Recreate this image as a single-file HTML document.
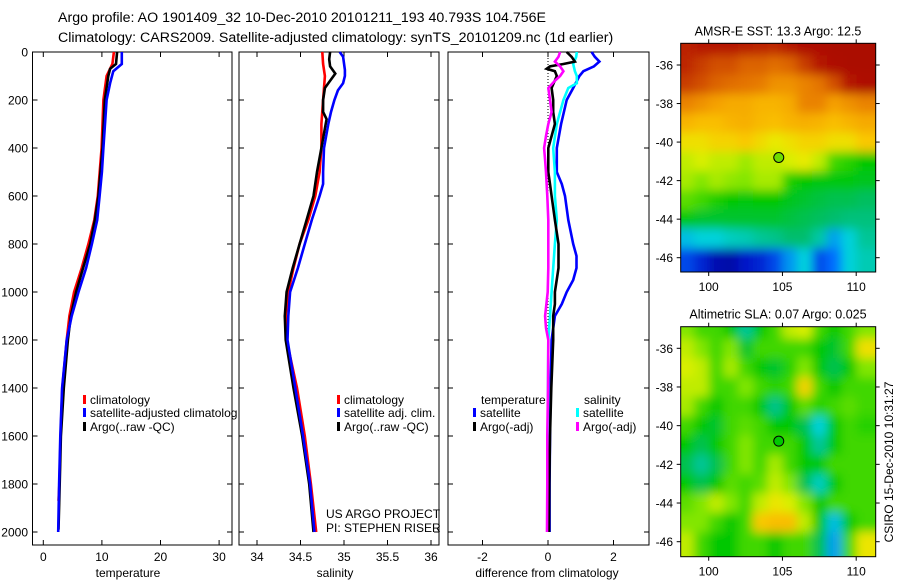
<!DOCTYPE html>
<html><head><meta charset="utf-8"><style>
html,body{margin:0;padding:0;background:#fff;}
svg{display:block;font-family:"Liberation Sans",sans-serif;}
</style></head><body>
<svg id="fig" width="900" height="580" viewBox="0 0 900 580" xmlns="http://www.w3.org/2000/svg">
<defs>
<filter id="blur" x="-0.1" y="-0.1" width="1.2" height="1.2"><feGaussianBlur stdDeviation="5"/></filter>
<clipPath id="clipA"><rect x="680.7" y="43.3" width="195" height="228.7"/></clipPath>
<clipPath id="clipB"><rect x="680.7" y="326.7" width="195" height="230"/></clipPath>
</defs>
<text x="58" y="22" font-size="14.2">Argo profile: AO 1901409_32 10-Dec-2010 20101211_193 40.793S 104.756E</text>
<text x="58" y="42" font-size="14.2">Climatology: CARS2009. Satellite-adjusted climatology: synTS_20101209.nc (1d earlier)</text>
</svg>
<script>
// ---- data ----
const depthTicks = [0,200,400,600,800,1000,1200,1400,1600,1800,2000];
const tempTicks = [0,10,20,30];
const salTicks = [34,34.5,35,35.5,36];
const diffTicks = [-2,0,2];
const tempClimDepth = [0,50,100,200,400,600,700,800,900,1000,1100,1200,1400,1600,1800,1870];
const tempClim = [12.05,11.8,10.8,10.25,9.95,9.3,8.7,7.7,6.55,5.25,4.45,4.0,3.25,2.95,2.75,2.6];
const tempArgoDepth = [0,50,70,100,200,400,600,700,800,900,1000,1100,1200,1400,1600,1800,1990];
const tempArgo = [12.6,12.4,11.4,11.1,10.5,10.1,9.4,8.8,8.0,6.8,5.6,4.7,4.2,3.5,3.0,2.8,2.6];
const tempSatDepth = [0,50,80,130,200,400,500,600,700,800,900,1000,1100,1200,1400,1600,1800,2000];
const tempSat = [13.4,13.4,11.95,11.4,10.8,10.25,10.0,9.6,9.2,8.3,7.3,6.0,4.85,4.0,3.2,2.9,2.7,2.55];
const salClimDepth = [0,50,100,200,300,400,500,600,700,800,900,1000,1100,1200,1400,1600,1800,2000];
const salClim = [34.75,34.76,34.78,34.76,34.74,34.74,34.72,34.67,34.59,34.49,34.42,34.36,34.33,34.34,34.46,34.55,34.62,34.68];
const salArgoDepth = [0,30,60,90,120,150,200,250,280,300,400,500,600,700,800,900,1000,1100,1200,1400,1600,1800,2000];
const salArgo = [34.84,34.83,34.84,34.9,34.84,34.78,34.76,34.76,34.8,34.79,34.74,34.69,34.65,34.57,34.49,34.41,34.34,34.32,34.33,34.42,34.52,34.6,34.65];
const salSatDepth = [0,20,75,100,130,160,200,250,300,400,500,550,600,700,800,900,1000,1100,1200,1400,1600,1800,2000];
const salSat = [34.95,34.99,35.01,35.01,34.99,34.93,34.89,34.85,34.82,34.77,34.76,34.76,34.72,34.63,34.55,34.47,34.38,34.36,34.35,34.44,34.53,34.61,34.66];
const dTsatDepth = [0,20,40,60,80,100,150,200,300,400,500,550,600,700,800,850,900,950,1000,1050,1100,1200,1400,1600,1800,2000];
const dTsat = [1.33,1.43,1.57,1.4,1.08,0.96,0.77,0.57,0.4,0.27,0.27,0.42,0.52,0.62,0.77,0.87,0.87,0.77,0.57,0.42,0.21,0.11,0.08,0.06,0.05,0.05];
const dSsatDepth = [0,20,50,80,100,130,150,200,300,400,500,600,700,800,900,1000,1100,1200,1400,1600,1800,2000];
const dSsat = [0.88,0.86,0.77,0.82,0.88,0.88,0.62,0.47,0.27,0.16,0.21,0.21,0.27,0.21,0.16,0.11,0.06,0.01,0.0,-0.01,0,0];
const dTargoDepth = [0,20,40,50,60,70,80,100,150,200,250,300,350,400,500,550,600,700,800,900,1000,1050,1100,1200,1400,1600,1800,2000];
const dTargo = [0.57,0.72,0.82,0.47,0.06,-0.04,0.21,0.27,0.11,0.16,0.16,0.21,0.11,0.01,0.01,0.06,0.11,0.21,0.32,0.32,0.21,0.21,0.16,0.16,0.1,0.06,0.04,0.03];
const dSargoDepth = [0,20,40,60,80,100,120,150,200,250,300,350,400,450,500,600,700,800,900,1000,1100,1150,1200,1400,1600,1800,2000];
const dSargo = [0.37,0.32,0.21,0.37,0.47,0.37,0.21,0.01,0.06,0.11,0.01,-0.06,-0.12,-0.09,-0.06,-0.02,0.01,0.01,0.01,-0.01,-0.09,-0.06,0.01,0.0,-0.02,-0.02,-0.03];
const mapLon = [98.5,99.5,100.5,101.5,102.5,103.5,104.5,105.5,106.5,107.5,108.5,109.5,110.5,111.5];
const mapLat = [-35,-36,-37,-38,-39,-40,-41,-42,-43,-44,-45,-46];
const lonTicks = [100,105,110];
const latTicks = [-36,-38,-40,-42,-44,-46];
const sstGrid = [
[0.93,0.95,0.95,0.95,0.94,0.93,0.92,0.95,0.97,0.97,0.98,0.98,0.98,0.98],
[0.92,0.9,0.88,0.88,0.86,0.86,0.85,0.86,0.9,0.95,0.97,0.98,0.98,0.98],
[0.9,0.88,0.86,0.85,0.84,0.83,0.8,0.8,0.82,0.84,0.88,0.95,0.97,0.97],
[0.82,0.8,0.78,0.76,0.76,0.74,0.74,0.76,0.82,0.82,0.78,0.8,0.82,0.82],
[0.74,0.72,0.72,0.74,0.75,0.73,0.72,0.74,0.75,0.74,0.72,0.74,0.76,0.76],
[0.66,0.66,0.68,0.68,0.7,0.67,0.64,0.66,0.68,0.68,0.66,0.66,0.7,0.7],
[0.6,0.62,0.6,0.6,0.57,0.6,0.6,0.62,0.64,0.6,0.5,0.48,0.45,0.45],
[0.58,0.55,0.58,0.56,0.55,0.58,0.58,0.47,0.45,0.44,0.44,0.44,0.43,0.43],
[0.52,0.5,0.47,0.45,0.44,0.45,0.45,0.43,0.42,0.41,0.4,0.4,0.39,0.39],
[0.44,0.42,0.42,0.42,0.42,0.42,0.42,0.41,0.4,0.39,0.38,0.37,0.37,0.37],
[0.28,0.3,0.3,0.32,0.33,0.35,0.36,0.38,0.38,0.34,0.25,0.3,0.35,0.35],
[0.16,0.12,0.07,0.06,0.1,0.12,0.16,0.24,0.3,0.16,0.2,0.3,0.33,0.33]];
const slaGrid = [
[0.55,0.5,0.5,0.45,0.35,0.45,0.5,0.6,0.62,0.5,0.45,0.5,0.55,0.55],
[0.6,0.55,0.5,0.55,0.42,0.5,0.5,0.5,0.5,0.45,0.42,0.5,0.66,0.66],
[0.62,0.6,0.5,0.58,0.5,0.45,0.42,0.48,0.55,0.45,0.4,0.45,0.55,0.55],
[0.6,0.6,0.5,0.5,0.55,0.5,0.48,0.5,0.68,0.5,0.45,0.5,0.5,0.5],
[0.58,0.5,0.45,0.5,0.5,0.45,0.36,0.45,0.52,0.48,0.5,0.52,0.5,0.5],
[0.5,0.45,0.42,0.5,0.52,0.5,0.45,0.45,0.4,0.3,0.45,0.5,0.48,0.48],
[0.45,0.4,0.45,0.5,0.55,0.5,0.5,0.5,0.45,0.35,0.45,0.5,0.5,0.5],
[0.4,0.35,0.4,0.5,0.55,0.5,0.58,0.5,0.45,0.45,0.5,0.5,0.5,0.5],
[0.45,0.4,0.45,0.52,0.5,0.52,0.6,0.55,0.4,0.32,0.45,0.5,0.5,0.5],
[0.52,0.55,0.6,0.55,0.5,0.6,0.65,0.62,0.55,0.45,0.5,0.5,0.5,0.5],
[0.55,0.55,0.5,0.45,0.5,0.7,0.72,0.72,0.6,0.45,0.28,0.45,0.5,0.5],
[0.6,0.5,0.45,0.45,0.5,0.5,0.45,0.5,0.5,0.4,0.25,0.5,0.65,0.65]];
const argoPos = [104.75,-40.8];

// ---- helpers ----
const NS = "http://www.w3.org/2000/svg";
const svg = document.getElementById('fig');
function mk(tag, attrs, parent, text){
  const e = document.createElementNS(NS, tag);
  for (const k in attrs) e.setAttribute(k, attrs[k]);
  if (text !== undefined) e.textContent = text;
  (parent || svg).appendChild(e);
  return e;
}
const yDepth = d => 52 + d*0.24;
const PY0 = 52, PY1 = 545;
const panels = [
  {name:'temperature', x0:32.5, x1:232, sx:v => 43.3 + v*5.86, ticks:tempTicks, label:'temperature'},
  {name:'salinity', x0:239, x1:439, sx:v => 257 + (v-34)*87, ticks:salTicks, label:'salinity'},
  {name:'difference', x0:448, x1:649, sx:v => 548 + v*32.75, ticks:diffTicks, label:'difference from climatology'}
];
panels.forEach((p, i) => {
  const g = mk('g', {});
  
  
  const r = mk('rect', {x:p.x0, y:PY0, width:p.x1-p.x0, height:PY1-PY0, fill:'none', stroke:'#000', 'stroke-width':1}, g);
  
  
  depthTicks.forEach(d => {
    const y = yDepth(d);
    mk('line', {x1:p.x0, x2:p.x0+5, y1:y, y2:y, stroke:'#000'}, g);
    mk('line', {x1:p.x1, x2:p.x1-5, y1:y, y2:y, stroke:'#000'}, g);
    if (i === 0) {
      const t = mk('text', {x:28, y:y+4.5, 'font-size':12, 'text-anchor':'end'}, g, String(d));
      
      
    }
  });
  p.ticks.forEach(v => {
    const x = p.sx(v);
    mk('line', {x1:x, x2:x, y1:PY0, y2:PY0+5, stroke:'#000'}, g);
    mk('line', {x1:x, x2:x, y1:PY1, y2:PY1-5, stroke:'#000'}, g);
    const t = mk('text', {x:x, y:561, 'font-size':12, 'text-anchor':'middle'}, g, String(v));
    
    
  });
  const lab = mk('text', {x:(i===0?128:(i===1?335:547)), y:577, 'font-size':12, 'text-anchor':'middle'}, g, p.label);
  
  
});
const zl = mk('line', {x1:panels[2].sx(0), x2:panels[2].sx(0), y1:yDepth(0), y2:yDepth(2000), stroke:'#000', 'stroke-width':1, 'stroke-dasharray':'1,2'});



function series(p, depths, vals, color, name){
  const pts = depths.map((d, k) => p.sx(vals[k]).toFixed(1) + ',' + yDepth(d).toFixed(1)).join(' ');
  const pl = mk('polyline', {points:pts, fill:'none', stroke:color, 'stroke-width':2.6, 'stroke-linejoin':'miter'});
  
  
}
series(panels[0], tempClimDepth, tempClim, '#f00', 'temperature-climatology-line');
series(panels[0], tempArgoDepth, tempArgo, '#000', 'temperature-argo-line');
series(panels[0], tempSatDepth, tempSat, '#00f', 'temperature-satellite-line');
series(panels[1], salClimDepth, salClim, '#f00', 'salinity-climatology-line');
series(panels[1], salArgoDepth, salArgo, '#000', 'salinity-argo-line');
series(panels[1], salSatDepth, salSat, '#00f', 'salinity-satellite-line');
series(panels[2], dTsatDepth, dTsat, '#00f', 'temp-diff-satellite-line');
series(panels[2], dSsatDepth, dSsat, '#0ff', 'sal-diff-satellite-line');
series(panels[2], dTargoDepth, dTargo, '#000', 'temp-diff-argo-line');
series(panels[2], dSargoDepth, dSargo, '#f0f', 'sal-diff-argo-line');

function legendEntry(x, y, color, text, name){
  const g = mk('g', {});
  
  
  mk('rect', {x:x, y:y-9, width:3, height:9, fill:color}, g);
  mk('text', {x:x+7, y:y, 'font-size':12}, g, text);
}
legendEntry(83, 404, '#f00', 'climatology', 'legend-entry-climatology');
legendEntry(83, 417, '#00f', 'satellite-adjusted climatolog', 'legend-entry-satellite-adjusted');
legendEntry(83, 431, '#000', 'Argo(..raw -QC)', 'legend-entry-argo');
legendEntry(337, 404, '#f00', 'climatology', 'legend-entry-sal-climatology');
legendEntry(337, 417, '#00f', 'satellite adj. clim.', 'legend-entry-sal-satellite');
legendEntry(337, 431, '#000', 'Argo(..raw -QC)', 'legend-entry-sal-argo');
const lt = mk('text', {x:481, y:404, 'font-size':12}, undefined, 'temperature');


const ls = mk('text', {x:584, y:404, 'font-size':12}, undefined, 'salinity');


legendEntry(473, 417, '#00f', 'satellite', 'legend-entry-temp-satellite');
legendEntry(473, 431, '#000', 'Argo(-adj)', 'legend-entry-temp-argo');
legendEntry(576, 417, '#0ff', 'satellite', 'legend-entry-sal-satellite-diff');
legendEntry(576, 431, '#f0f', 'Argo(-adj)', 'legend-entry-sal-argo-diff');
const c1 = mk('text', {x:326, y:518, 'font-size':12}, undefined, 'US ARGO PROJECT');


const c2 = mk('text', {x:326, y:532, 'font-size':12}, undefined, 'PI: STEPHEN RISER');



const stops = [[0,[0,0,120]],[0.1,[0,20,200]],[0.2,[0,110,255]],[0.3,[0,210,220]],[0.38,[0,190,110]],[0.45,[0,200,0]],[0.55,[130,230,0]],[0.63,[230,240,0]],[0.7,[250,200,0]],[0.78,[245,160,0]],[0.85,[225,110,0]],[0.92,[190,40,0]],[1,[165,0,0]]];
function cmap(v){
  v = Math.max(0, Math.min(1, v));
  for (let k=1; k<stops.length; k++){
    if (v <= stops[k][0]){
      const a = stops[k-1], b = stops[k], t = (v-a[0])/(b[0]-a[0]);
      const c = a[1].map((q,j) => Math.round(q + (b[1][j]-q)*t));
      return 'rgb(' + c.join(',') + ')';
    }
  }
  return 'rgb(165,0,0)';
}
function drawMap(m){
  const sx = lon => 708.7 + (lon-100)*14.75;
  const sy = lat => m.yLat36 + (-36 - lat)*m.pxLat;
  const g = mk('g', {});
  
  
  const cg = mk('g', {'clip-path':'url(#' + m.clip + ')'}, g);
  const bg = mk('g', {filter:'url(#blur)'}, cg);
  m.grid.forEach((row, r) => {
    row.forEach((v, c) => {
      let x0 = sx(mapLon[c]-0.5), x1 = sx(mapLon[c]+0.5);
      let y0 = sy(mapLat[r]+0.5), y1 = sy(mapLat[r]-0.5);
      if (c === 0) x0 -= 20;
      if (c === row.length-1) x1 += 20;
      if (r === 0) y0 -= 20;
      if (r === m.grid.length-1) y1 += 20;
      const cell = mk('rect', {x:x0.toFixed(1), y:y0.toFixed(1), width:(x1-x0+0.6).toFixed(1), height:(y1-y0+0.6).toFixed(1), fill:cmap(v)}, bg);
      
      
    });
  });
  mk('rect', {x:680.7, y:m.top, width:195, height:m.bot-m.top, fill:'none', stroke:'#000'}, g);
  lonTicks.forEach(l => {
    const x = sx(l);
    mk('line', {x1:x, x2:x, y1:m.top, y2:m.top-4, stroke:'#000'}, g);
    mk('line', {x1:x, x2:x, y1:m.bot, y2:m.bot+4, stroke:'#000'}, g);
    const t = mk('text', {x:x, y:m.bot+19, 'font-size':12, 'text-anchor':'middle'}, g, String(l));
    
    
  });
  latTicks.forEach(l => {
    const y = sy(l);
    mk('line', {x1:680.7, x2:676.7, y1:y, y2:y, stroke:'#000'}, g);
    mk('line', {x1:875.7, x2:879.7, y1:y, y2:y, stroke:'#000'}, g);
    const t = mk('text', {x:673, y:y+4.5, 'font-size':12, 'text-anchor':'end'}, g, String(l));
    
    
  });
  const dot = mk('circle', {cx:sx(argoPos[0]), cy:sy(argoPos[1]), r:5, fill:m.dot, stroke:'#000', 'stroke-width':1}, g);
  
  
  const tt = mk('text', {x:778, y:m.top-8, 'font-size':12.5, 'text-anchor':'middle'}, g, m.title);
  
  
}
drawMap({name:'sst-map', grid:sstGrid, clip:'clipA', top:43.3, bot:272, yLat36:65, pxLat:19.27, dot:'rgb(110,220,0)', title:'AMSR-E SST: 13.3 Argo: 12.5'});
drawMap({name:'sla-map', grid:slaGrid, clip:'clipB', top:326.7, bot:556.7, yLat36:348.3, pxLat:19.34, dot:'rgb(0,200,0)', title:'Altimetric SLA: 0.07 Argo: 0.025'});
const cs = mk('text', {x:0, y:0, 'font-size':12, 'text-anchor':'middle', transform:'translate(893,462) rotate(-90)'}, undefined, 'CSIRO 15-Dec-2010 10:31:27');


</script>
</body></html>
